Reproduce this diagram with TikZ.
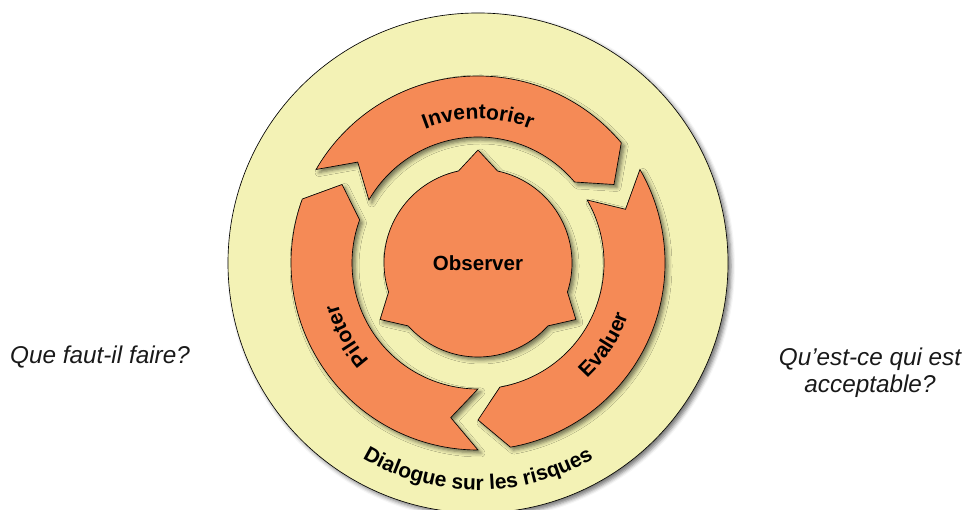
\documentclass[tikz,border=0pt]{standalone}
\usepackage{fontspec}
\setmainfont{Liberation Sans}
\usetikzlibrary{decorations.text,shadows.blur}
\definecolor{orng}{RGB}{245,138,86}
\definecolor{ylw}{RGB}{243,242,181}
\newcommand\lblfont{\bfseries\fontsize{21}{24}\selectfont}
\newcommand\obsfont{\bfseries\fontsize{20.5}{24}\selectfont}
\newcommand\sidefont{\itshape\fontsize{24.3}{27}\selectfont}
\newcommand\ringarrow[1]{%
  \path[ringpart] (#1:187) arc[start angle=#1, end angle=#1-110, radius=187]
    -- (#1-120:157) -- (#1-110:126)
    arc[start angle=#1-110, end angle=#1, radius=126]
    -- (#1-10:157) -- cycle;}
\begin{document}
\begin{tikzpicture}[x=1pt,y=1pt,
  shad/.style={blur shadow={shadow xshift=3pt, shadow yshift=-3pt, shadow blur radius=4pt, shadow opacity=55}},
  ringpart/.style={fill=orng, draw=black, line width=0.65pt, shad},
  sidetext/.style={font=\sidefont, text=black!90, inner sep=0pt},
  arclabel/.style={decorate, decoration={text along path, text align=center, text={|\lblfont|#1}}}
]
\useasboundingbox (0,0) rectangle (968,510);
\clip (0,0) rectangle (968,510);
\begin{scope}[shift={(478,247)}]
  % outer disc
  \path[fill=ylw, draw=black, line width=0.65pt, shad] (0,0) circle[radius=250];
  % three arrows
  \ringarrow{270}
  \ringarrow{150}
  \ringarrow{30}
  % centre shape
  \path[ringpart] (102:94) arc[start angle=102, end angle=198, radius=94]
    -- (210:113) -- (222:94) arc[start angle=222, end angle=318, radius=94]
    -- (330:113) -- (342:94) arc[start angle=342, end angle=438, radius=94]
    -- (90:113) -- cycle;
  \node[font=\obsfont, inner sep=0pt] (obs) at (0,0) {Observer};
  % curved labels
  \path[arclabel=Inventorier] (150:144) arc[start angle=150, end angle=30, radius=144];
  \path[arclabel=Piloter] (259:146) arc[start angle=259, end angle=159, radius=146];
  \path[arclabel=Evaluer] (-83:159) arc[start angle=-83, end angle=17, radius=159];
  \path[arclabel=Dialogue sur les risques] (200:227) arc[start angle=200, end angle=340, radius=227];
\end{scope}
\node[sidetext, anchor=base west] (q1) at (10,146) {Que faut-il faire?};
\node[sidetext, anchor=base, align=center] (q2) at (870,117) {Qu’est-ce qui est\\acceptable?};
\end{tikzpicture}
\end{document}
